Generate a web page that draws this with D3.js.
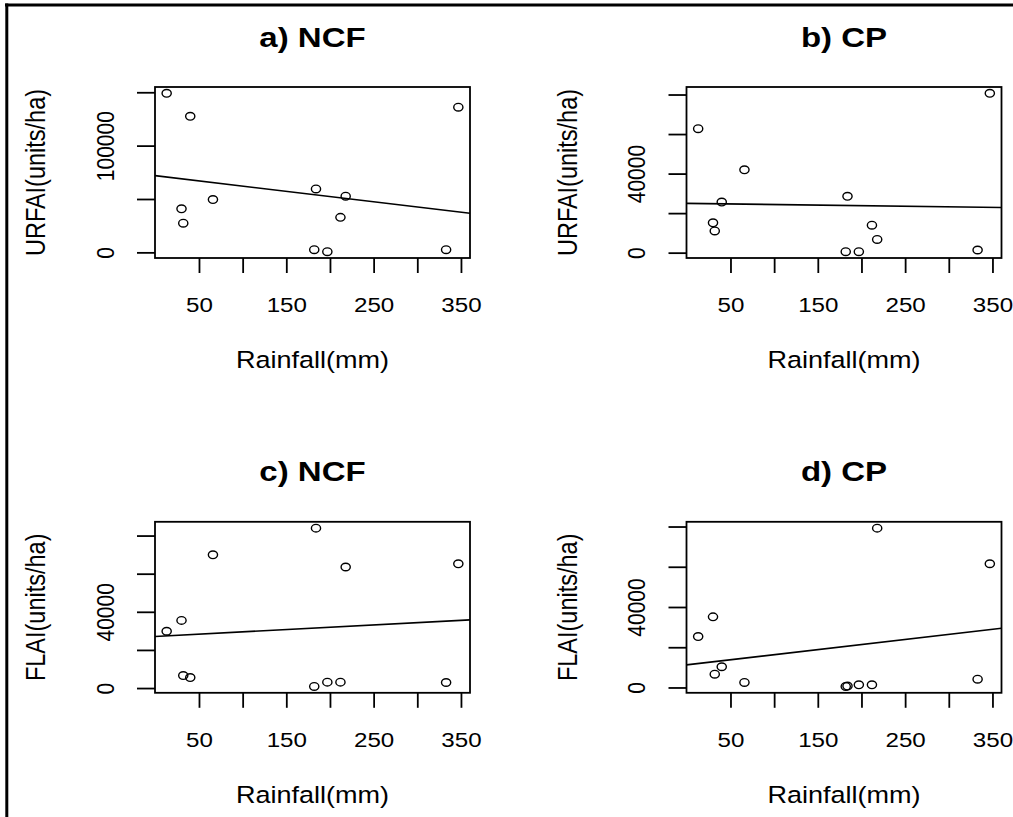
<!DOCTYPE html>
<html>
<head>
<meta charset="utf-8">
<script src="https://cdn.jsdelivr.net/npm/d3@7"></script>
<style>
  html, body { margin: 0; padding: 0; background: #fff; }
  svg { display: block; }
  text { font-family: "Liberation Sans", Arial, sans-serif; fill: #000; }
</style>
</head>
<body>
<svg id="chart" width="1013" height="817"></svg>
<script>
// ---------------- data ----------------
const rainfall  = [13, 30, 32, 40, 66, 182, 184, 197, 212, 218, 333, 347];
const urfaiNCF  = [149000, 40800, 27300, 127500, 49500, 2500, 59400, 650, 32800, 52600, 2500, 136000];
const urfaiCP   = [62700, 15100, 11000, 25600, 41900, 500, 28500, 500, 13900, 6700, 1350, 80600];
const flaiNCF   = [29800, 35500, 6550, 5500, 69900, 830, 83900, 3100, 3100, 63500, 2900, 65200];
const flaiCP    = [25300, 35100, 6600, 10300, 2500, 500, 700, 1330, 1330, 79200, 4100, 61500];

const panelTitles = ["a) NCF", "b) CP", "c) NCF", "d) CP"];
const yLabels     = ["URFAI(units/ha)", "URFAI(units/ha)", "FLAI(units/ha)", "FLAI(units/ha)"];
const xLabel      = "Rainfall(mm)";

const xTicks       = [50, 100, 150, 200, 250, 300, 350];
const xTickLabels  = [50, 150, 250, 350];
const yTicksA      = [0, 50000, 100000, 150000];
const yTickLabelsA = [0, 100000];
const yTicksB      = [0, 20000, 40000, 60000, 80000];
const yTickLabelsB = [0, 40000];

const series = [urfaiNCF, urfaiCP, flaiNCF, flaiCP];
const yTickSets = [yTicksA, yTicksB, yTicksB, yTicksB];
const yLabelSets = [yTickLabelsA, yTickLabelsB, yTickLabelsB, yTickLabelsB];

// ---------------- layout ----------------
const svg = d3.select("#chart");
const plotW = 315, plotH = 171;
const lefts = [155, 686.5], tops = [87, 521.8];
const SX = 1.15; // horizontal text stretch seen in reference

// outer frame (top and left edges only visible)
svg.append("line").attr("x1", 5).attr("x2", 1013).attr("y1", 5).attr("y2", 5)
  .attr("stroke", "#000").attr("stroke-width", 3);
svg.append("line").attr("x1", 6.8).attr("x2", 6.8).attr("y1", 3.5).attr("y2", 817)
  .attr("stroke", "#000").attr("stroke-width", 3);

function rExtent(vals) {
  const [lo, hi] = d3.extent(vals);
  const pad = (hi - lo) * 0.04;
  return [lo - pad, hi + pad];
}

function linFit(xs, ys) {
  const mx = d3.mean(xs), my = d3.mean(ys);
  let sxy = 0, sxx = 0;
  xs.forEach((x, i) => { sxy += (x - mx) * (ys[i] - my); sxx += (x - mx) * (x - mx); });
  const b = sxy / sxx;
  return { a: my - b * mx, b };
}

series.forEach((ys, p) => {
  const col = p % 2, row = Math.floor(p / 2);
  const g = svg.append("g").attr("transform", `translate(${lefts[col]},${tops[row]})`);

  const x = d3.scaleLinear().domain(rExtent(rainfall)).range([0, plotW]);
  const y = d3.scaleLinear().domain(rExtent(ys)).range([plotH, 0]);

  const clipId = "clip" + p;
  g.append("clipPath").attr("id", clipId).append("rect")
    .attr("width", plotW).attr("height", plotH);

  // regression line
  const fit = linFit(rainfall, ys);
  const [x0, x1] = x.domain();
  g.append("line")
    .attr("clip-path", `url(#${clipId})`)
    .attr("x1", x(x0)).attr("y1", y(fit.a + fit.b * x0))
    .attr("x2", x(x1)).attr("y2", y(fit.a + fit.b * x1))
    .attr("stroke", "#000").attr("stroke-width", 1.6);

  // points
  g.selectAll("ellipse.pt").data(rainfall.map((r, i) => [r, ys[i]]))
    .enter().append("ellipse").attr("class", "pt")
    .attr("cx", d => x(d[0])).attr("cy", d => y(d[1]))
    .attr("rx", 4.6).attr("ry", 3.8)
    .attr("fill", "none").attr("stroke", "#000").attr("stroke-width", 1.4);

  // box
  g.append("rect").attr("width", plotW).attr("height", plotH)
    .attr("fill", "none").attr("stroke", "#000").attr("stroke-width", 1.8);

  // x axis
  const xa = g.append("g").attr("transform", `translate(0,${plotH})`)
    .call(d3.axisBottom(x).tickValues(xTicks).tickSize(15).tickSizeOuter(0)
      .tickFormat(d => xTickLabels.includes(d) ? String(d) : ""));
  xa.select(".domain").remove();
  xa.selectAll(".tick line").attr("stroke", "#000").attr("stroke-width", 1.8);
  xa.selectAll(".tick text")
    .attr("y", null).attr("dy", null)
    .attr("transform", `translate(0,53.7) scale(${SX},1)`)
    .attr("text-anchor", "middle")
    .style("font-size", "21px").style("font-family", null).attr("fill", "#000");

  // y axis
  const ya = g.append("g")
    .call(d3.axisLeft(y).tickValues(yTickSets[p]).tickSize(18).tickSizeOuter(0)
      .tickFormat(d => yLabelSets[p].includes(d) ? String(d) : ""));
  ya.select(".domain").remove();
  ya.selectAll(".tick line").attr("stroke", "#000").attr("stroke-width", 1.8);
  ya.selectAll(".tick text")
    .attr("x", null).attr("dy", null)
    .attr("transform", `translate(-41.5,0) scale(${SX},1) rotate(-90)`)
    .attr("text-anchor", "middle")
    .style("font-size", "21px").style("font-family", null).attr("fill", "#000");
  svg.selectAll(".tick text").attr("font-family", null);

  // title
  g.append("text")
    .attr("transform", `translate(${plotW / 2},-40.5) scale(1.2,1)`)
    .attr("text-anchor", "middle")
    .style("font-size", "27.5px").style("font-weight", "bold")
    .text(panelTitles[p]);

  // x label
  g.append("text")
    .attr("transform", `translate(${plotW / 2},${plotH + 110}) scale(${SX},1)`)
    .attr("text-anchor", "middle")
    .style("font-size", "23.5px")
    .text(xLabel);

  // y label
  g.append("text")
    .attr("transform", `translate(-110,${plotH / 2}) scale(${SX},1) rotate(-90)`)
    .attr("text-anchor", "middle")
    .style("font-size", "23.5px")
    .text(yLabels[p]);
});
</script>
</body>
</html>
